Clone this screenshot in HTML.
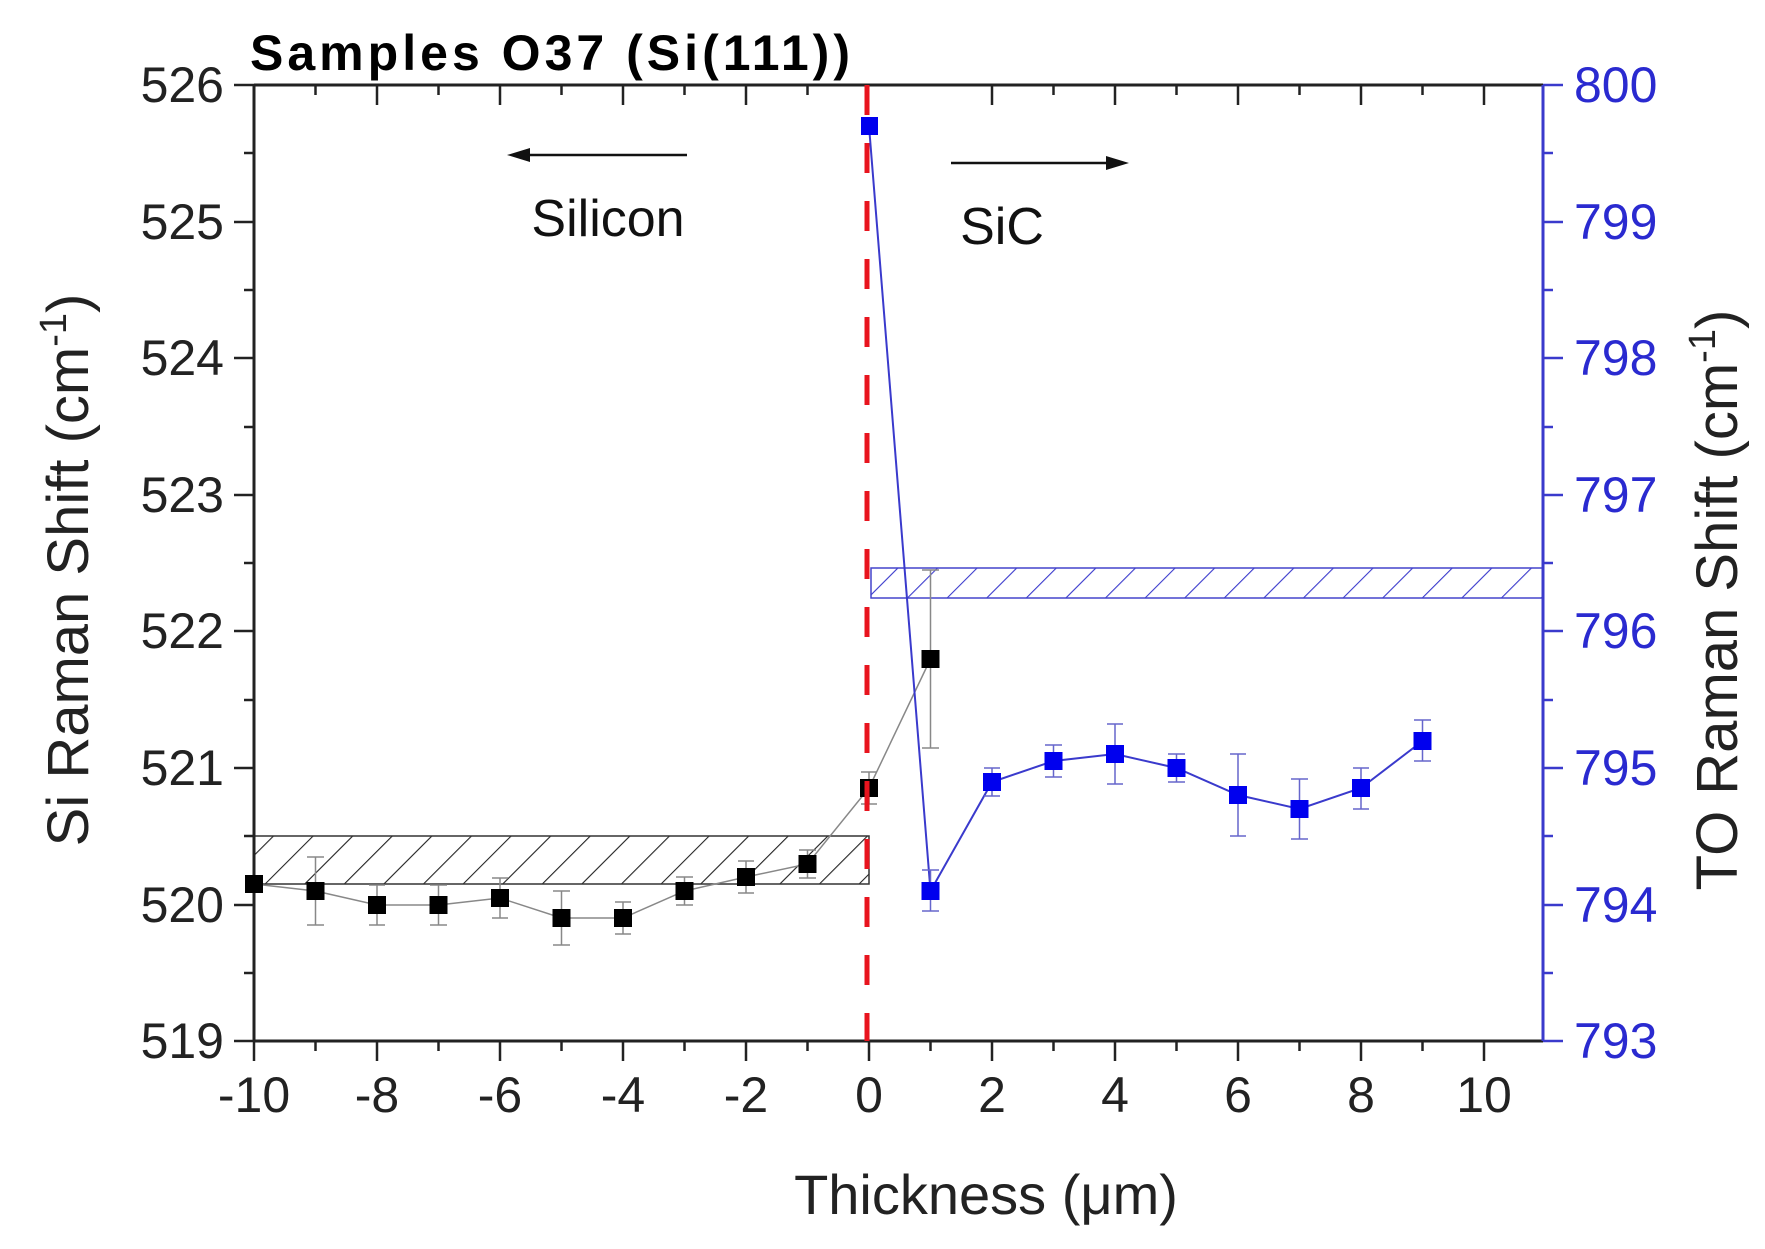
<!DOCTYPE html>
<html><head><meta charset="utf-8"><style>
html,body{margin:0;padding:0;background:#fff;}
svg{display:block;}
text{font-family:"Liberation Sans",Arial,sans-serif;}
</style></head><body>
<svg width="1765" height="1249" viewBox="0 0 1765 1249" xmlns="http://www.w3.org/2000/svg">
<defs>
<pattern id="hb" patternUnits="userSpaceOnUse" width="28" height="28" patternTransform="rotate(45)">
<line x1="0" y1="0" x2="0" y2="28" stroke="#222" stroke-width="2.2"/></pattern>
<pattern id="hbl" patternUnits="userSpaceOnUse" width="28" height="28" patternTransform="rotate(45)">
<line x1="0" y1="0" x2="0" y2="28" stroke="#3a3acc" stroke-width="2.2"/></pattern>
</defs>
<rect width="1765" height="1249" fill="#fff"/>
<rect x="254" y="836" width="615" height="48" fill="url(#hb)" stroke="#333" stroke-width="1.5"/>
<rect x="871" y="568" width="672" height="30" fill="url(#hbl)" stroke="#4444cc" stroke-width="1.5"/>
<g stroke="#222" stroke-width="3" fill="none">
<line x1="254" y1="85" x2="254" y2="1041"/>
<line x1="254" y1="1041" x2="1543" y2="1041"/>
<line x1="254" y1="85" x2="1543" y2="85"/>
</g>
<line x1="1543" y1="85" x2="1543" y2="1041" stroke="#3a3acc" stroke-width="3"/>
<g stroke="#222" stroke-width="2.5">
<line x1="234" y1="85" x2="254" y2="85"/><line x1="234" y1="222" x2="254" y2="222"/><line x1="234" y1="358" x2="254" y2="358"/><line x1="234" y1="495" x2="254" y2="495"/><line x1="234" y1="631" x2="254" y2="631"/><line x1="234" y1="768" x2="254" y2="768"/><line x1="234" y1="905" x2="254" y2="905"/><line x1="234" y1="1041" x2="254" y2="1041"/>
<line x1="244" y1="153" x2="254" y2="153"/><line x1="244" y1="290" x2="254" y2="290"/><line x1="244" y1="427" x2="254" y2="427"/><line x1="244" y1="563" x2="254" y2="563"/><line x1="244" y1="700" x2="254" y2="700"/><line x1="244" y1="836" x2="254" y2="836"/><line x1="244" y1="973" x2="254" y2="973"/>
</g>
<g stroke="#3a3acc" stroke-width="2.5">
<line x1="1543" y1="85" x2="1563" y2="85"/><line x1="1543" y1="222" x2="1563" y2="222"/><line x1="1543" y1="358" x2="1563" y2="358"/><line x1="1543" y1="495" x2="1563" y2="495"/><line x1="1543" y1="631" x2="1563" y2="631"/><line x1="1543" y1="768" x2="1563" y2="768"/><line x1="1543" y1="905" x2="1563" y2="905"/><line x1="1543" y1="1041" x2="1563" y2="1041"/>
<line x1="1543" y1="153" x2="1553" y2="153"/><line x1="1543" y1="290" x2="1553" y2="290"/><line x1="1543" y1="427" x2="1553" y2="427"/><line x1="1543" y1="563" x2="1553" y2="563"/><line x1="1543" y1="700" x2="1553" y2="700"/><line x1="1543" y1="836" x2="1553" y2="836"/><line x1="1543" y1="973" x2="1553" y2="973"/>
</g>
<g stroke="#222" stroke-width="2.5">
<line x1="254" y1="1041" x2="254" y2="1061"/><line x1="377" y1="1041" x2="377" y2="1061"/><line x1="500" y1="1041" x2="500" y2="1061"/><line x1="623" y1="1041" x2="623" y2="1061"/><line x1="746" y1="1041" x2="746" y2="1061"/><line x1="869" y1="1041" x2="869" y2="1061"/><line x1="992" y1="1041" x2="992" y2="1061"/><line x1="1115" y1="1041" x2="1115" y2="1061"/><line x1="1238" y1="1041" x2="1238" y2="1061"/><line x1="1361" y1="1041" x2="1361" y2="1061"/><line x1="1484" y1="1041" x2="1484" y2="1061"/>
<line x1="315.5" y1="1041" x2="315.5" y2="1051"/><line x1="438.5" y1="1041" x2="438.5" y2="1051"/><line x1="561.5" y1="1041" x2="561.5" y2="1051"/><line x1="684.5" y1="1041" x2="684.5" y2="1051"/><line x1="807.5" y1="1041" x2="807.5" y2="1051"/><line x1="930.5" y1="1041" x2="930.5" y2="1051"/><line x1="1053.5" y1="1041" x2="1053.5" y2="1051"/><line x1="1176.5" y1="1041" x2="1176.5" y2="1051"/><line x1="1299.5" y1="1041" x2="1299.5" y2="1051"/><line x1="1422.5" y1="1041" x2="1422.5" y2="1051"/>
<line x1="377" y1="85" x2="377" y2="105"/><line x1="500" y1="85" x2="500" y2="105"/><line x1="623" y1="85" x2="623" y2="105"/><line x1="746" y1="85" x2="746" y2="105"/><line x1="992" y1="85" x2="992" y2="105"/><line x1="1115" y1="85" x2="1115" y2="105"/><line x1="1238" y1="85" x2="1238" y2="105"/><line x1="1361" y1="85" x2="1361" y2="105"/><line x1="1484" y1="85" x2="1484" y2="105"/>
<line x1="315.5" y1="85" x2="315.5" y2="95"/><line x1="438.5" y1="85" x2="438.5" y2="95"/><line x1="561.5" y1="85" x2="561.5" y2="95"/><line x1="684.5" y1="85" x2="684.5" y2="95"/><line x1="807.5" y1="85" x2="807.5" y2="95"/><line x1="1053.5" y1="85" x2="1053.5" y2="95"/><line x1="1176.5" y1="85" x2="1176.5" y2="95"/><line x1="1299.5" y1="85" x2="1299.5" y2="95"/><line x1="1422.5" y1="85" x2="1422.5" y2="95"/>
</g>
<g stroke="#888" stroke-width="1.5" fill="none">
<polyline points="254,884 315.5,891 377,905 438.5,905 500,898 561.5,918 623,918 684.5,891 746,877 807.5,864 869,788 930.5,659"/>
<path d="M315.5,857V925M307,857h17M307,925h17 M377,885V925M369,885h16M369,925h16 M438.5,885V925M430,885h17M430,925h17 M500,878V918M492,878h16M492,918h16 M561.5,891V945M553,891h17M553,945h17 M623,902V934M615,902h16M615,934h16 M684.5,877V905M676,877h17M676,905h17 M746,861V893M738,861h16M738,893h16 M807.5,850V878M799,850h17M799,878h17 M869,772V804M861,772h16M861,804h16 M930.5,570V748M922,570h17M922,748h17"/>
</g>
<g fill="#000">
<rect x="245" y="875" width="18" height="18"/><rect x="306.5" y="882" width="18" height="18"/><rect x="368" y="896" width="18" height="18"/><rect x="429.5" y="896" width="18" height="18"/><rect x="491" y="889" width="18" height="18"/><rect x="552.5" y="909" width="18" height="18"/><rect x="614" y="909" width="18" height="18"/><rect x="675.5" y="882" width="18" height="18"/><rect x="737" y="868" width="18" height="18"/><rect x="798.5" y="855" width="18" height="18"/><rect x="860" y="779" width="18" height="18"/><rect x="921.5" y="650" width="18" height="18"/>
</g>
<g stroke="#3a3acc" fill="none">
<polyline stroke-width="2" points="869,126 930.5,891 992,782 1053.5,761 1115,754 1176.5,768 1238,795 1299.5,809 1361,788 1422.5,741"/>
<path stroke-width="1.5" stroke="#6666cc" d="M930.5,870V911M922,870h17M922,911h17 M992,768V796M984,768h16M984,796h16 M1053.5,745V777M1045,745h17M1045,777h17 M1115,724V784M1107,724h16M1107,784h16 M1176.5,754V782M1168,754h17M1168,782h17 M1238,754V836M1230,754h16M1230,836h16 M1299.5,779V839M1291,779h17M1291,839h17 M1361,768V809M1353,768h16M1353,809h16 M1422.5,720V761M1414,720h17M1414,761h17"/>
</g>
<g fill="#0000ee">
<rect x="861" y="117" width="17" height="18"/><rect x="921.5" y="882" width="18" height="18"/><rect x="983" y="773" width="18" height="18"/><rect x="1044.5" y="752" width="18" height="18"/><rect x="1106" y="745" width="18" height="18"/><rect x="1167.5" y="759" width="18" height="18"/><rect x="1229" y="786" width="18" height="18"/><rect x="1290.5" y="800" width="18" height="18"/><rect x="1352" y="779" width="18" height="18"/><rect x="1413.5" y="732" width="18" height="18"/>
</g>
<line x1="867" y1="85" x2="867" y2="1041" stroke="#e8141e" stroke-width="5" stroke-dasharray="30,28"/>
<line x1="687" y1="155" x2="525" y2="155" stroke="#111" stroke-width="2.5"/>
<polygon points="507,155 530,148 530,162" fill="#111"/>
<line x1="951" y1="163" x2="1110" y2="163" stroke="#111" stroke-width="2.5"/>
<polygon points="1129,163 1106,156 1106,170" fill="#111"/>
<g font-size="52" fill="#111">
<text x="608" y="236" text-anchor="middle">Silicon</text>
<text x="1002" y="244" text-anchor="middle">SiC</text>
</g>
<text x="250" y="70" font-size="50" font-weight="bold" fill="#000" textLength="600">Samples O37 (Si(111))</text>
<g font-size="50" fill="#222" text-anchor="end">
<text x="224" y="102">526</text><text x="224" y="239">525</text><text x="224" y="375">524</text><text x="224" y="512">523</text><text x="224" y="648">522</text><text x="224" y="785">521</text><text x="224" y="922">520</text><text x="224" y="1058">519</text>
</g>
<g font-size="50" fill="#2a2ad0">
<text x="1574" y="102">800</text><text x="1574" y="239">799</text><text x="1574" y="375">798</text><text x="1574" y="512">797</text><text x="1574" y="648">796</text><text x="1574" y="785">795</text><text x="1574" y="922">794</text><text x="1574" y="1058">793</text>
</g>
<g font-size="50" fill="#222" text-anchor="middle">
<text x="254" y="1112">-10</text><text x="377" y="1112">-8</text><text x="500" y="1112">-6</text><text x="623" y="1112">-4</text><text x="746" y="1112">-2</text><text x="869" y="1112">0</text><text x="992" y="1112">2</text><text x="1115" y="1112">4</text><text x="1238" y="1112">6</text><text x="1361" y="1112">8</text><text x="1484" y="1112">10</text>
</g>
<text x="986" y="1214" font-size="56" fill="#222" text-anchor="middle">Thickness (μm)</text>
<text transform="translate(88,570) rotate(-90)" font-size="58" fill="#222" text-anchor="middle">Si Raman Shift (cm<tspan font-size="38" dy="-22">-1</tspan><tspan dy="22">)</tspan></text>
<text transform="translate(1737,600) rotate(-90)" font-size="58" fill="#222" text-anchor="middle">TO Raman Shift (cm<tspan font-size="38" dy="-22">-1</tspan><tspan dy="22">)</tspan></text>
</svg>
</body></html>
